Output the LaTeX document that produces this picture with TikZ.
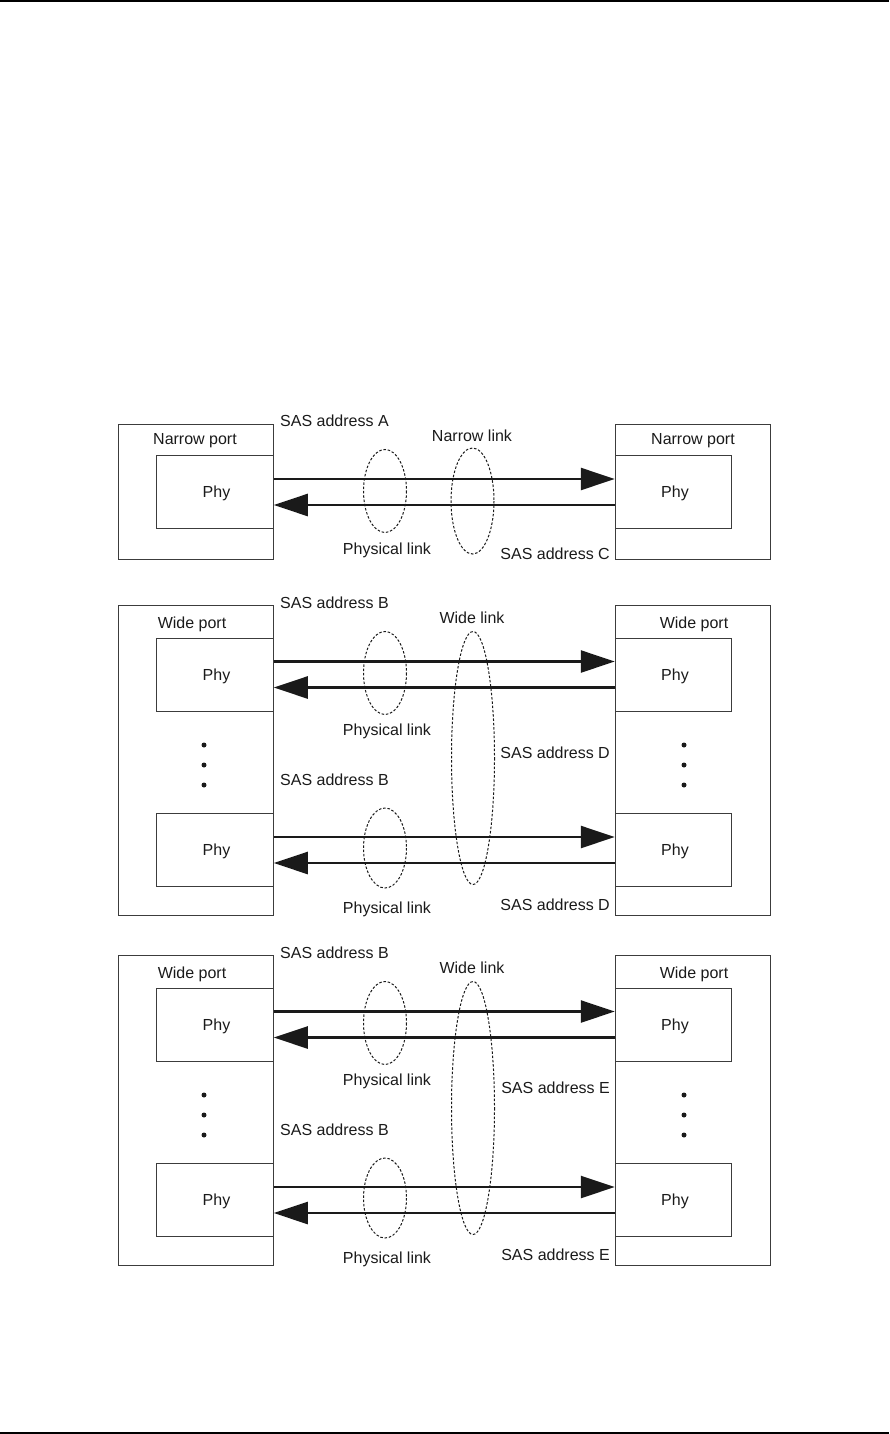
\documentclass[tikz,border=0pt]{standalone}
\usepackage{fontspec}
\setmainfont{Liberation Sans}
\usepackage{tikz}
\usetikzlibrary{arrows.meta,positioning}
\definecolor{ink}{HTML}{1A1A1A}
\definecolor{edge}{HTML}{3C3C3C}
\tikzset{
  lab/.style={inner sep=0pt, text=ink, font=\fontsize{16}{19}\selectfont, text height=11.5pt, text depth=0pt},
  port/.style={draw=edge, line width=1pt, minimum width=155pt, inner sep=0pt},
  phy/.style={draw=edge, line width=1pt, minimum width=116.5pt, minimum height=73pt, lab},
  link/.style={draw=ink, line width=2.5pt, -{Triangle[length=34pt,width=22pt]}},
  ring/.style={draw=ink, line width=1pt, dash pattern=on 2.5pt off 1.8pt},
  dot/.style={circle, fill=ink, inner sep=0pt, minimum size=5pt},
  rule/.style={draw=black, line width=2pt},
}
\begin{document}
\begin{tikzpicture}[x=1pt, y=-1pt]
  \useasboundingbox (0,0) rectangle (889,1434);
  \draw[rule] (0,1) -- (889,1);
  \draw[rule] (0,1433) -- (889,1433);

  % narrow port on both ends
  \node[port, minimum height=135pt] (n-pl) at (195.5,491.5) {};
  \node[port, minimum height=135pt] (n-pr) at (693,491.5) {};
  \node[phy] (n-fl) at (215,491.5) {\hspace{3pt}Phy};
  \node[phy] (n-fr) at (673.5,491.5) {\hspace{3pt}Phy};
  \node[lab] (n-tl) at (195,439) {Narrow port};
  \node[lab] (n-tr) at (693,439) {Narrow port};
  \draw[link] ([yshift=12.5pt]n-fl.east) -- ([yshift=12.5pt]n-fr.west);
  \draw[link] ([yshift=-13.5pt]n-fr.west) -- ([yshift=-13.5pt]n-fl.east);
  \draw[ring] (385,491) ellipse [x radius=21.5, y radius=41.5];
  \draw[ring] (472.5,501) ellipse [x radius=21.5, y radius=53];
  \node[lab, anchor=west] (n-sa) at (280,421) {SAS address A};
  \node[lab] (n-ln) at (472,436) {Narrow link};
  \node[lab] (n-ph) at (387,548.5) {Physical link};
  \node[lab, anchor=east] (n-sc) at (610,554) {SAS address C};

  % wide ports, two of them
  \foreach \s/\dy/\dm/\X in {w/0/0/D, v/350/335/E}{
    \node[port, minimum height=310pt] (\s-pl) at (195.5,760+\dy) {};
    \node[port, minimum height=310pt] (\s-pr) at (693,760+\dy) {};
    \node[phy] (\s-fl1) at (215,674.5+\dy) {\hspace{3pt}Phy};
    \node[phy] (\s-fr1) at (673.5,674.5+\dy) {\hspace{3pt}Phy};
    \node[phy] (\s-fl2) at (215,850+\dy) {\hspace{3pt}Phy};
    \node[phy] (\s-fr2) at (673.5,850+\dy) {\hspace{3pt}Phy};
    \node[lab] (\s-tl) at (192,623+\dy) {Wide port};
    \node[lab] (\s-tr) at (694,623+\dy) {Wide port};
    \foreach \k in {0,1,2}{
      \node[dot] (\s-dl\k) at (204,745+20*\k+\dy) {};
      \node[dot] (\s-dr\k) at (684,745+20*\k+\dy) {};
    }
    \foreach \i in {1,2}{
      \draw[link] ([yshift=13pt]\s-fl\i.east) -- ([yshift=13pt]\s-fr\i.west);
      \draw[link] ([yshift=-13pt]\s-fr\i.west) -- ([yshift=-13pt]\s-fl\i.east);
    }
    \draw[ring] (385,673+\dy) ellipse [x radius=21.5, y radius=41.5];
    \draw[ring] (385,848+\dy) ellipse [x radius=21.5, y radius=40];
    \draw[ring] (473,758+\dy) ellipse [x radius=21.5, y radius=126.5];
    \node[lab, anchor=west] (\s-sb1) at (280,603+\dy) {SAS address B};
    \node[lab, anchor=west] (\s-sb2) at (280,780+\dy) {SAS address B};
    \node[lab] (\s-lw) at (472,618+\dy) {Wide link};
    \node[lab] (\s-ph1) at (387,730+\dy) {Physical link};
    \node[lab] (\s-ph2) at (387,908+\dy) {Physical link};
    \node[lab, anchor=east] (\s-sx1) at (610,752.5+\dm) {SAS address \X};
    \node[lab, anchor=east] (\s-sx2) at (610,905+\dy) {SAS address \X};
  }
\end{tikzpicture}
\end{document}
